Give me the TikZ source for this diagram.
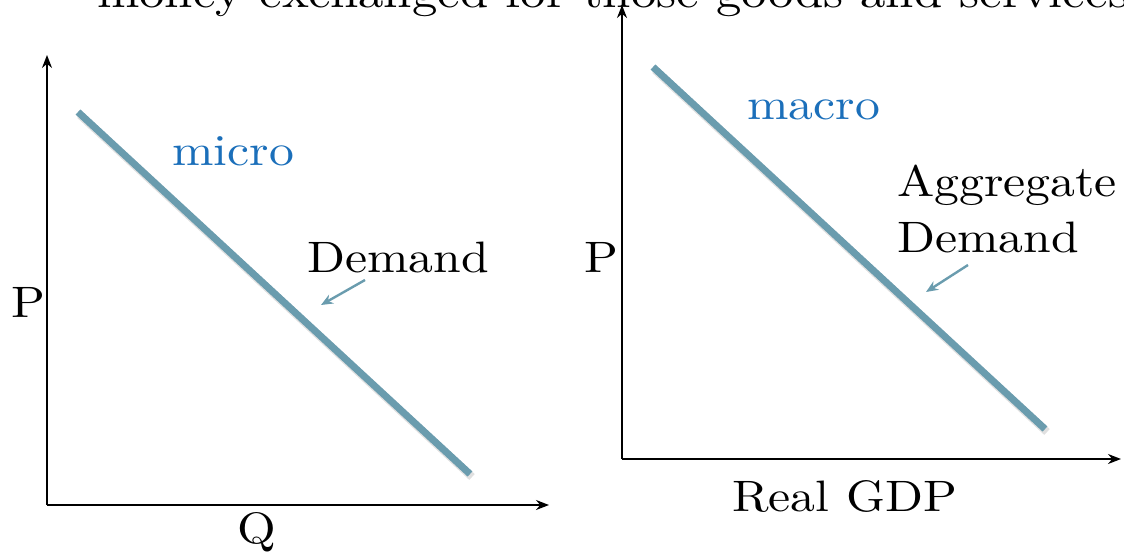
\documentclass[tikz,border=0pt]{standalone}
\usepackage{fontspec}
\setmainfont{lmroman10-regular.otf}[FakeStretch=1.13]
\usetikzlibrary{arrows.meta}
\definecolor{curve}{RGB}{106,156,174}
\definecolor{lblblue}{RGB}{27,111,186}
\tikzset{
  axis/.style={line width=1.7pt,-{Stealth[length=13pt,width=10pt]}},
  curveline/.style={line width=7pt,curve},
  shadowline/.style={line width=8pt,black!40,opacity=0.3},
  pointer/.style={line width=2.4pt,curve,-{Stealth[length=12pt,width=10pt]}},
  lbl/.style={font=\fontsize{44}{50}\selectfont,inner sep=0pt,anchor=base west},
  bluelbl/.style={lbl,text=lblblue}
}
\begin{document}
\begin{tikzpicture}[x=1pt,y=-1pt]
\useasboundingbox (0,0) rectangle (1124,552);
% cut-off heading (only its lower edge shows)
\node[lbl,font=\fontsize{45}{50}\selectfont] (head) at (97,7) {money exchanged for those goods and services.};
% left chart
\coordinate (lo) at (47,505);
\coordinate (ly) at (47,55);
\coordinate (lx) at (549,505);
\draw[axis] (lo) -- (ly);
\draw[axis] (lo) -- (lx);
\coordinate (la) at (78,112);
\coordinate (lb) at (470,474);
\draw[shadowline] ([shift={(2,3)}]la) -- ([shift={(2,3)}]lb);
\draw[curveline] (la) -- (lb);
\node[bluelbl] (micro) at (172,165) {micro};
\node[lbl] (dem) at (307,272) {Demand};
\coordinate (dsa) at (365,280);
\coordinate (dsb) at (321,305);
\draw[pointer] (dsa) -- (dsb);
\node[lbl] (lp) at (11,317) {P};
\node[lbl] (lq) at (237,543) {Q};
% right chart
\coordinate (ro) at (622,459);
\coordinate (ry) at (622,5);
\coordinate (rx) at (1121,459);
\draw[axis] (ro) -- (ry);
\draw[axis] (ro) -- (rx);
\coordinate (ra) at (653,67);
\coordinate (rb) at (1045,429);
\draw[shadowline] ([shift={(2,3)}]ra) -- ([shift={(2,3)}]rb);
\draw[curveline] (ra) -- (rb);
\node[bluelbl] (macro) at (747,119) {macro};
\node[lbl] (agg) at (897,196) {Aggregate};
\node[lbl] (adem) at (897,252) {Demand};
\coordinate (asa) at (968,265);
\coordinate (asb) at (926,292);
\draw[pointer] (asa) -- (asb);
\node[lbl] (rp) at (584,272) {P};
\node[lbl] (gdp) at (732,511) {Real GDP};
\end{tikzpicture}
\end{document}
